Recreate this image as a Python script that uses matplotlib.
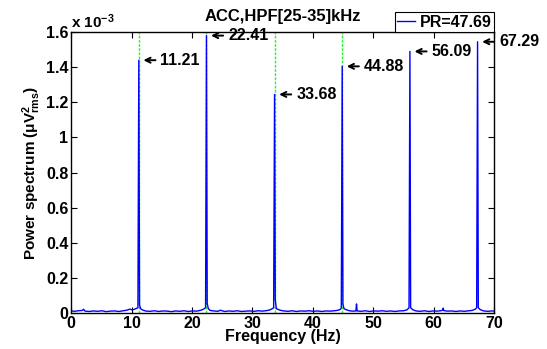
import matplotlib
matplotlib.use('Agg')
import matplotlib.pyplot as plt
from matplotlib.ticker import FuncFormatter

plt.rcParams['font.family'] = ['Liberation Sans', 'DejaVu Sans']
plt.rcParams['font.weight'] = 'bold'
plt.rcParams['mathtext.fontset'] = 'custom'
plt.rcParams['mathtext.rm'] = 'Liberation Sans:bold'
plt.rcParams['mathtext.bf'] = 'Liberation Sans:bold'
plt.rcParams['mathtext.it'] = 'Liberation Sans:bold'
plt.rcParams['mathtext.default'] = 'bf'

# noise floor (frequency Hz, power x1e-3)
floor = [
    (0.0, 0.012), (0.6, 0.010), (1.2, 0.013), (1.9, 0.015), (2.05, 0.022), (2.3, 0.011),
    (3.0, 0.009), (3.7, 0.012), (4.4, 0.010), (5.1, 0.013), (5.8, 0.008), (6.5, 0.011),
    (7.2, 0.012), (7.9, 0.009), (8.6, 0.013), (9.2, 0.016), (9.7, 0.022), (10.2, 0.018),
    (10.7, 0.025), (11.8, 0.018), (12.4, 0.011), (13.1, 0.010), (13.8, 0.013), (14.5, 0.009),
    (15.2, 0.012), (15.9, 0.011), (16.6, 0.008), (17.3, 0.012), (18.0, 0.010), (18.7, 0.013),
    (19.4, 0.009), (20.1, 0.012), (20.8, 0.011), (21.5, 0.016), (21.9, 0.022), (23.0, 0.015),
    (23.6, 0.012), (24.3, 0.010), (24.7, 0.016), (25.4, 0.009), (26.1, 0.012), (26.8, 0.010),
    (27.5, 0.013), (28.2, 0.009), (28.9, 0.011), (29.6, 0.012), (30.3, 0.010), (31.0, 0.013),
    (31.7, 0.011), (32.4, 0.014), (32.9, 0.018), (33.3, 0.025), (34.6, 0.016), (35.2, 0.012),
    (35.9, 0.010), (36.6, 0.013), (37.3, 0.009), (38.0, 0.012), (38.7, 0.011), (39.4, 0.013),
    (40.1, 0.010), (40.8, 0.012), (41.5, 0.009), (42.2, 0.012), (42.9, 0.011), (43.6, 0.013),
    (44.2, 0.016), (44.6, 0.022), (45.6, 0.018), (46.2, 0.012), (46.8, 0.011), (47.15, 0.012),
    (47.25, 0.052), (47.35, 0.012), (48.0, 0.010), (48.7, 0.013), (49.4, 0.009), (50.1, 0.012),
    (50.8, 0.011), (51.5, 0.013), (52.2, 0.010), (52.9, 0.012), (53.6, 0.009), (54.3, 0.012),
    (55.0, 0.013), (55.6, 0.018), (56.5, 0.020), (57.1, 0.012), (57.8, 0.010), (58.5, 0.013),
    (59.2, 0.009), (59.9, 0.012), (60.6, 0.011), (61.2, 0.013), (61.5, 0.016), (61.6, 0.028),
    (61.7, 0.014), (62.3, 0.011), (63.0, 0.012), (63.7, 0.009), (64.4, 0.012), (65.1, 0.010),
    (65.8, 0.013), (66.4, 0.015), (66.9, 0.022), (67.7, 0.020), (68.3, 0.012), (69.0, 0.010),
    (69.6, 0.012), (70.0, 0.011),
]

# harmonic peaks
peak_freqs = [11.21, 22.41, 33.68, 44.88, 56.09, 67.29]
peak_heights = [1.44, 1.58, 1.245, 1.405, 1.49, 1.545]
peak_shoulders = [0.045, 0.055, 0.075, 0.05, 0.03, 0.03]
peak_labels = ['11.21', '22.41', '33.68', '44.88', '56.09', '67.29']

# green dashed markers
marker_freqs = [11.21, 22.41, 33.68, 44.88]

pts = list(floor)
for f, h, s in zip(peak_freqs, peak_heights, peak_shoulders):
    pts += [(f - 0.15, 0.03), (f, h), (f + 0.12, s), (f + 0.3, 0.025)]
pts.sort()
freq = [p[0] for p in pts]
power = [p[1] for p in pts]

fig = plt.figure(figsize=(5.47, 3.49), dpi=100)
ax = fig.add_axes([0.130, 0.103, 0.773, 0.805])

for f in marker_freqs:
    ax.axvline(f, color='#33ee33', linestyle='--', linewidth=1.0, dashes=(2, 1), zorder=1)

ax.plot(freq, power, color='#0000ff', linewidth=1.0, label='PR=47.69', zorder=2)

for f, h, lab in zip(peak_freqs, peak_heights, peak_labels):
    ax.annotate(lab, xy=(f, h), xytext=(15.5, 0), textcoords='offset points',
                ha='left', va='center', fontsize=11.5, fontweight='bold',
                annotation_clip=False,
                arrowprops=dict(arrowstyle='->', lw=1.4, color='black',
                                relpos=(0, 0.5), shrinkA=1.5, shrinkB=3.3,
                                mutation_scale=9))

ax.set_xlim(0, 70)
ax.set_ylim(0, 1.6)
ax.set_xticks(range(0, 71, 10))
ax.set_yticks([0, 0.2, 0.4, 0.6, 0.8, 1.0, 1.2, 1.4, 1.6])
ax.yaxis.set_major_formatter(FuncFormatter(lambda v, p: '%g' % round(v, 2)))
ax.tick_params(direction='in', top=True, right=True, length=4, width=0.8,
               labelsize=11.5, pad=2)
for lab in ax.get_xticklabels() + ax.get_yticklabels():
    lab.set_fontweight('bold')
for sp in ax.spines.values():
    sp.set_linewidth(1.0)

ax.set_title('ACC,HPF[25-35]kHz', fontsize=12, fontweight='bold', pad=8)
ax.set_xlabel('Frequency (Hz)', fontsize=11.5, fontweight='bold', labelpad=-1)
ax.set_ylabel(r'Power spectrum ($\mu$V$^2_{rms}$)', fontsize=11, fontweight='bold', labelpad=2)
ax.text(0.0, 1.005, r'x 10$^{-3}$', transform=ax.transAxes, ha='left', va='bottom',
        fontsize=11, fontweight='bold')

leg = ax.legend(loc='lower right', bbox_to_anchor=(1.0, 1.0), borderaxespad=0,
                fancybox=False, edgecolor='black', framealpha=1,
                handlelength=1.1, handletextpad=0.3, borderpad=0.15,
                prop={'weight': 'bold', 'size': 11.5})
leg.get_frame().set_linewidth(0.8)

fig.savefig('out.png', dpi=100)
